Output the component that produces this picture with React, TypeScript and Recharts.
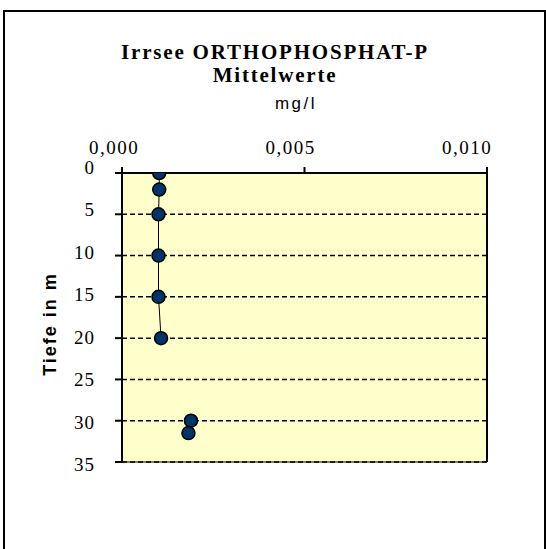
import { CartesianGrid, Line, LineChart, ReferenceLine, XAxis, YAxis } from "recharts";

// depth in m, mean orthophosphate-P in mg/l (no sample at 25 m, so the line breaks there)
const upperDepths = [0, 2, 5, 10, 15, 20];
const upperValues = [0.00102, 0.00102, 0.001, 0.001, 0.001, 0.00107];
const deepDepths = [30, 31.5];
const deepValues = [0.00189, 0.00182];
const valueTicks = [0, 0.005, 0.01];
const depthTicks = [0, 5, 10, 15, 20, 25, 30, 35];

const rows = [
  ...upperDepths.map((depth, i) => ({ depth, upper: upperValues[i] })),
  ...deepDepths.map((depth, i) => ({ depth, deep: deepValues[i] })),
];

const fmt = (v: number) => v.toFixed(3).replace(".", ",");

function ValueTick(props: any) {
  const { x, y, payload } = props;
  // labels sit a bit left of their ticks, more so further right
  const shift = -8 - 1200 * payload.value;
  return (
    <text
      x={x + shift}
      y={y - 11}
      textAnchor="middle"
      fontFamily="'Liberation Serif', serif"
      fontSize={19}
      letterSpacing={1.5}
      fill="#000"
    >
      {fmt(payload.value)}
    </text>
  );
}

function DepthTick(props: any) {
  const { x, y, payload } = props;
  const shift = -5 + (8 * payload.value) / 35;
  return (
    <text
      x={x - 18}
      y={y + shift}
      dy={6}
      textAnchor="end"
      fontFamily="'Liberation Serif', serif"
      fontSize={19}
      letterSpacing={1}
      fill="#000"
    >
      {payload.value}
    </text>
  );
}

const dotStyle = { r: 6.5, fill: "#003366", stroke: "#000", strokeWidth: 1.5 };

const titleStyle: React.CSSProperties = {
  position: "absolute",
  left: 0,
  width: 550,
  textAlign: "center",
  fontFamily: "'Liberation Serif', serif",
  fontWeight: "bold",
  fontSize: 21,
  lineHeight: "21px",
  letterSpacing: 1.8,
  whiteSpace: "nowrap",
};

export default function App() {
  return (
    <div style={{ position: "absolute", left: 0, top: 0, width: 546, height: 549, overflow: "hidden", background: "#fff" }}>
      <div
        style={{
          position: "absolute",
          left: 3,
          top: 10,
          width: 539,
          height: 600,
          borderLeft: "2px solid #000",
          borderTop: "2px solid #000",
          borderRight: "2px solid #000",
        }}
      />
      <div style={{ ...titleStyle, top: 42 }}>Irrsee ORTHOPHOSPHAT-P</div>
      <div style={{ ...titleStyle, top: 65 }}>Mittelwerte</div>
      <div
        style={{
          position: "absolute",
          left: 0,
          width: 592,
          top: 94,
          textAlign: "center",
          fontFamily: "'Liberation Sans', Arial, sans-serif",
          fontSize: 17,
          letterSpacing: 2.5,
        }}
      >
        mg/l
      </div>
      <div
        style={{
          position: "absolute",
          left: 50,
          top: 324,
          transform: "translate(-50%, -50%) rotate(-90deg)",
          whiteSpace: "nowrap",
          fontFamily: "'Liberation Sans', Arial, sans-serif",
          fontWeight: "bold",
          fontSize: 18,
          letterSpacing: 2,
        }}
      >
        Tiefe in m
      </div>
      <div style={{ position: "absolute", left: 0, top: 0 }}>
        <LineChart
          layout="vertical"
          width={546}
          height={549}
          data={rows}
          margin={{ top: 143, right: 59, bottom: 87, left: 92 }}
        >
          <CartesianGrid horizontal vertical={false} fill="#FFFFCC" stroke="#000" strokeDasharray="5 3" strokeWidth={1.5} />
          <XAxis
            type="number"
            orientation="top"
            domain={[0, 0.01]}
            ticks={valueTicks}
            height={30}
            axisLine={{ stroke: "#000", strokeWidth: 2 }}
            tickLine={{ stroke: "#000", strokeWidth: 2 }}
            tickSize={6}
            tick={<ValueTick />}
            allowDataOverflow
          />
          <YAxis
            type="number"
            dataKey="depth"
            domain={[0, 35]}
            ticks={depthTicks}
            width={30}
            axisLine={{ stroke: "#000", strokeWidth: 2 }}
            tickLine={{ stroke: "#000", strokeWidth: 2 }}
            tickSize={7}
            tick={<DepthTick />}
            allowDataOverflow
          />
          <ReferenceLine x={0.01} stroke="#000" strokeWidth={2} />
          <ReferenceLine y={35} stroke="#000" strokeWidth={1} />
          <Line dataKey="upper" stroke="#000" strokeWidth={1} isAnimationActive={false} dot={dotStyle} />
          <Line dataKey="deep" stroke="#000" strokeWidth={1} isAnimationActive={false} dot={dotStyle} />
        </LineChart>
      </div>
    </div>
  );
}
